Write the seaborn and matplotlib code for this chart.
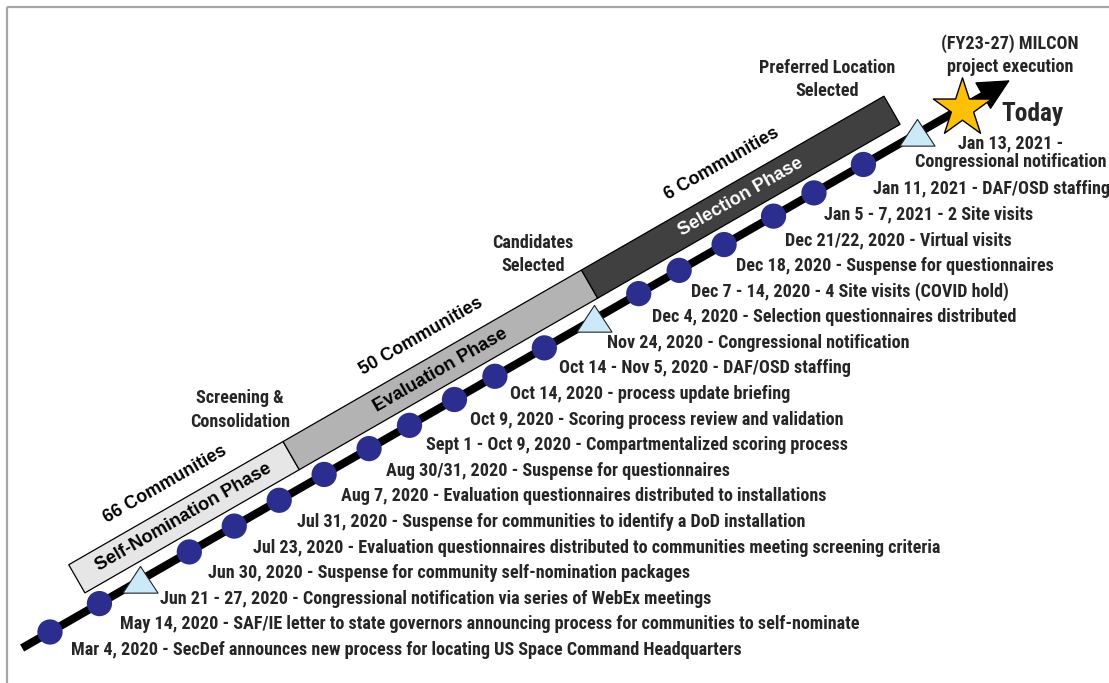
import numpy as np
import pandas as pd
import matplotlib
matplotlib.use("Agg")
import matplotlib.pyplot as plt
import seaborn as sns
from matplotlib.patches import Polygon
from matplotlib import font_manager

# ---- data -------------------------------------------------------------
event_labels = [
    "Mar 4, 2020 - SecDef announces new process for locating US Space Command Headquarters",
    "May 14, 2020 - SAF/IE letter to state governors announcing process for communities to self-nominate",
    "Jun 21 - 27, 2020 - Congressional notification via series of WebEx meetings",
    "Jun 30, 2020 - Suspense for community self-nomination packages",
    "Jul 23, 2020 - Evaluation questionnaires distributed to communities meeting screening criteria",
    "Jul 31, 2020 - Suspense for communities to identify a DoD installation",
    "Aug 7, 2020 - Evaluation questionnaires distributed to installations",
    "Aug 30/31, 2020 - Suspense for questionnaires",
    "Sept 1 - Oct 9, 2020 - Compartmentalized scoring process",
    "Oct 9, 2020 - Scoring process review and validation",
    "Oct 14, 2020 - process update briefing",
    "Oct 14 - Nov 5, 2020 - DAF/OSD staffing",
    "Nov 24, 2020 - Congressional notification",
    "Dec 4, 2020 - Selection questionnaires distributed",
    "Dec 7 - 14, 2020 - 4 Site visits (COVID hold)",
    "Dec 18, 2020 - Suspense for questionnaires",
    "Dec 21/22, 2020 - Virtual visits",
    "Jan 5 - 7, 2021 - 2 Site visits",
    "Jan 11, 2021 - DAF/OSD staffing",
    "Jan 13, 2021 -\nCongressional notification",
]
# position of each event along the timeline (slot units)
event_slot = [0, 1.1, 2.0, 3.1, 4.1, 5.1, 6.1, 7.1, 8.0, 9.0, 9.9, 11.0,
              12.1, 13.1, 14.0, 15.0, 16.1, 17.0, 18.1, 19.3]
event_kind = ["step", "step", "congress", "step", "step", "step", "step", "step",
              "step", "step", "step", "step", "congress", "step", "step", "step",
              "step", "step", "step", "congress"]

phase_names = ["Self-Nomination Phase", "Evaluation Phase", "Selection Phase"]
phase_counts = ["66 Communities", "50 Communities", "6 Communities"]
phase_start = [0.96, 5.73, 12.37]
phase_end = [5.73, 12.37, 19.1]

milestone_labels = ["Screening &\nConsolidation", "Candidates\nSelected",
                    "Preferred Location\nSelected", "(FY23-27) MILCON\nproject execution"]
milestone_slot = [5.31, 11.71, 18.31, 21.6]

today_slot = 20.3
timeline_start, timeline_end = -0.62, 21.36

# ---- geometry of the slanted timeline (pixel space) --------------------
W, H = 1109, 683
ORIGIN = np.array([50.0, 632.0])
STEP = np.array([44.94, -25.83])
UNIT = STEP / np.linalg.norm(STEP)
NORMAL = np.array([UNIT[1], -UNIT[0]])          # points "above" the line
ANGLE = np.degrees(np.arctan2(-STEP[1], STEP[0]))
ROW_TOP, ROW_GAP = 650.0, 25.6                  # text rows of the event list


def to_px(s, p=0.0):
    pt = ORIGIN + np.outer(np.atleast_1d(s), STEP) + np.outer(np.atleast_1d(p), NORMAL)
    return pt[:, 0], pt[:, 1]


# pick a condensed bold face if one is installed (reference uses Arial Narrow)
names = {f.name for f in font_manager.fontManager.ttflist}
preferred = ["Liberation Sans Narrow", "Arial Narrow", "Roboto Condensed",
             "Noto Sans Condensed", "Open Sans Condensed", "Noto Sans SemiCondensed",
             "DejaVu Sans Condensed"]
narrow = next((n for n in preferred if n in names), None)
if narrow is None:
    narrow = next((n for n in sorted(names) if ("Condensed" in n or "Narrow" in n)
                   and "Extra" not in n and "Ultra" not in n and "CJK" not in n), "Liberation Sans")
NARROW = [narrow, "Liberation Sans", "DejaVu Sans"]
WIDE = ["Liberation Sans", "DejaVu Sans"]

sns.set_style("white")
plt.rcParams["font.family"] = NARROW

fig = plt.figure(figsize=(W / 100, H / 100), dpi=100)
ax = fig.add_axes([0, 0, 1, 1])
ax.set_xlim(0, W)
ax.set_ylim(H, 0)
ax.axis("off")

# calibrate the label size so the first label spans the same width as the reference
renderer = fig.canvas.get_renderer()
probe = ax.text(0, 0, event_labels[0], fontsize=12, fontweight="bold")
probe_w = probe.get_window_extent(renderer).width
probe.remove()
FS = float(np.clip(12 * 672 / probe_w, 10, 13.5))

# frame (top and left edges only)
ax.plot([7, 7], [7, H], color="#A6A6A6", lw=1.6, solid_capstyle="butt")
ax.plot([7, W], [7, 7], color="#A6A6A6", lw=1.6, solid_capstyle="butt")

# phase bars
bar_colors = ["#E6E6E6", "#B3B3B3", "#404040"]
bar_text_colors = ["black", "black", "white"]
p_lo, p_hi = 16.5, 49.0
for name, count, s0, s1, fc, tc in zip(phase_names, phase_counts, phase_start,
                                       phase_end, bar_colors, bar_text_colors):
    xs, ys = to_px([s0, s1, s1, s0], [p_lo, p_lo, p_hi, p_hi])
    ax.add_patch(Polygon(np.column_stack([xs, ys]), closed=True, facecolor=fc,
                         edgecolor="black", lw=0.9, zorder=2))
    cx, cy = to_px((s0 + s1) / 2, (p_lo + p_hi) / 2)
    ax.text(cx[0], cy[0], name, rotation=ANGLE, rotation_mode="anchor", ha="center",
            va="center", fontsize=13.2, fontweight="bold", family=WIDE, color=tc, zorder=3)
    cx, cy = to_px((s0 + s1) / 2, 71)
    ax.text(cx[0], cy[0], count, rotation=ANGLE, rotation_mode="anchor", ha="center",
            va="center", fontsize=13, fontweight="bold", family=WIDE, color="black")

# timeline: thick line plus a separate arrow head
lx, ly = to_px([timeline_start, timeline_end])
tip = np.array([lx[1], ly[1]])
back = tip - 14 * UNIT
sns.lineplot(x=[lx[0], back[0]], y=[ly[0], back[1]], ax=ax, color="black", lw=5.8,
             sort=False, solid_capstyle="butt", zorder=4)
ax.annotate("", xy=tuple(tip), xytext=tuple(tip - 30 * UNIT),
            arrowprops=dict(arrowstyle="-|>,head_length=1.0,head_width=0.5",
                            lw=1, color="black", shrinkA=0, shrinkB=0,
                            mutation_scale=21), zorder=4)

# event markers
ex, ey = to_px(event_slot)
events = pd.DataFrame({"x": ex, "y": ey, "kind": event_kind, "label": event_labels,
                       "slot": event_slot})
tri = [(-1, -0.72), (1, -0.72), (0, 0.8), (-1, -0.72)]
sns.scatterplot(data=events[events.kind == "step"], x="x", y="y", ax=ax, s=330,
                color="#2B2E8F", edgecolor="none", legend=False, zorder=5)
sns.scatterplot(data=events[events.kind == "congress"], x="x", y="y", ax=ax, s=640,
                marker=tri, color="#CCE9F9", edgecolor="#222222", linewidth=0.8,
                legend=False, zorder=5)

# today star
sx, sy = to_px(today_slot)
sns.scatterplot(x=sx, y=sy, ax=ax, marker="*", s=1950, color="#FFC000",
                edgecolor="black", linewidth=1.0, legend=False, zorder=6)
ax.text(sx[0] + 70, sy[0] + 6, "Today", fontsize=FS * 1.4, fontweight="bold",
        ha="center", va="center")

# event labels
for i, r in events.iterrows():
    if "\n" in r.label:
        ax.text(r.x + 93, r.y + 19, r.label, ha="center", va="center", fontsize=FS,
                fontweight="bold", linespacing=1.05)
    else:
        ax.text(r.x + 21 - 0.62 * r.slot, ROW_TOP - ROW_GAP * i, r.label, ha="left",
                va="center", fontsize=FS, fontweight="bold")

# milestone labels above the bars
for lab, s, p in zip(milestone_labels, milestone_slot, [97.9, 86.4, 91.7, 22]):
    mx, my = to_px(s, p)
    ax.text(mx[0], my[0], lab, ha="center", va="center", fontsize=FS,
            fontweight="bold", linespacing=1.4)

fig.savefig("out.png", dpi=100)
